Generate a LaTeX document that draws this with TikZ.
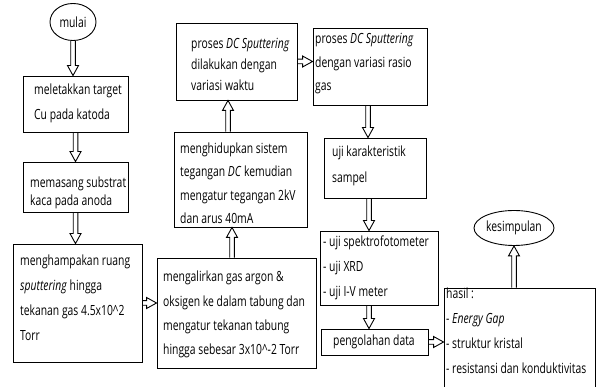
\documentclass[tikz,border=0pt]{standalone}
\usepackage{fontspec}
\setmainfont{Open Sans}[FakeStretch=0.74]
\usetikzlibrary{calc,shapes.geometric}
\newcommand\T{\rule{0pt}{11pt}}
\newcommand\hollowarrow[2]{%
  \path (#1) coordinate (ha) (#2) coordinate (hb);
  \coordinate (hc) at ($(hb)!10pt!(ha)$);
  \draw[harrow] ($(ha)!2.3pt!90:(hb)$) -- ($(hc)!2.3pt!90:(hb)$) -- ($(hc)!5.5pt!90:(hb)$) -- (hb)
    -- ($(hc)!5.5pt!-90:(hb)$) -- ($(hc)!2.3pt!-90:(hb)$) -- ($(ha)!2.3pt!-90:(hb)$);
}
\tikzset{
  box/.style={draw=black, line width=0.9pt, rectangle, inner sep=0pt},
  oval/.style={draw=black, line width=0.9pt, ellipse, inner sep=0pt, font=\fontsize{14}{17}\selectfont, text=black},
  tx/.style={anchor=north west, inner sep=0pt, align=left, font=\fontsize{14}{#1}\selectfont, text=black},
  tx/.default=25,
  harrow/.style={draw=black, line width=0.9pt, line join=miter},
}
\begin{document}
\begin{tikzpicture}[x=1pt,y=-1pt]
\useasboundingbox (0,0) rectangle (598,387);
% boxes
\node[box, minimum width=105pt, minimum height=56pt] (b1) at (75.5,104) {};
\node[box, minimum width=105pt, minimum height=50pt] (b2) at (75.5,187) {};
\node[box, minimum width=129pt, minimum height=118pt] (b3) at (77.5,303) {};
\node[box, minimum width=159pt, minimum height=110pt] (b4) at (236.5,313) {};
\node[box, minimum width=133pt, minimum height=95pt] (b5) at (240.5,179.5) {};
\node[box, minimum width=121pt, minimum height=77pt] (b6) at (236.5,61.5) {};
\node[box, minimum width=114pt, minimum height=77pt] (b7) at (370,66.5) {};
\node[box, minimum width=102pt, minimum height=60pt] (b8) at (375,168) {};
\node[box, minimum width=118pt, minimum height=74pt] (b9) at (379,268) {};
\node[box, minimum width=107pt, minimum height=26pt] (b10) at (374.5,342) {};
\node[box, minimum width=151pt, minimum height=104pt] (b11) at (519.5,340) {};
\node[oval, minimum width=46pt, minimum height=37pt] (m) at (73,22) {mulai};
\node[oval, minimum width=80pt, minimum height=35pt] (k) at (514,228) {kesimpulan};
% texts
\node[tx] (t1) at (34,83) {\T meletakkan target\\Cu pada katoda};
\node[tx=18] (t2) at (30,176) {\T memasang substrat\\kaca pada anoda};
\node[tx] (t3) at (20,254.7) {\T menghampakan ruang\\\textit{sputtering} hingga\\tekanan gas 4.5x10\textasciicircum2\\Torr};
\node[tx=24.2] (t4) at (163,270.7) {\T mengalirkan gas argon \&\\oksigen ke dalam tabung dan\\mengatur tekanan tabung\\hingga sebesar 3x10\textasciicircum-2 Torr};
\node[tx=23.3] (t5) at (180,142.3) {\T menghidupkan sistem\\tegangan \textit{DC} kemudian\\mengatur tegangan 2kV\\dan arus 40mA};
\node[tx=21] (t6) at (191,37.5) {\T proses \textit{DC Sputtering}\\dilakukan dengan\\variasi waktu};
\node[tx=23.7] (t7) at (315,32.3) {\T proses \textit{DC Sputtering}\\dengan variasi rasio\\gas};
\node[tx=26.5] (t8) at (332,145) {\T uji karakteristik\\sampel};
\node[tx=24.7] (t9) at (323,235.7) {\T - uji spektrofotometer\\- uji XRD\\- uji I-V meter};
\node[tx] (t10) at (333,334) {\T pengolahan data};
\node[tx] (t11) at (446,287.3) {\T hasil :\\- \textit{Energy Gap}\\- struktur kristal\\- resistansi dan konduktivitas};
% arrows
\hollowarrow{m.south}{m.south |- b1.north}
\hollowarrow{b1.south}{b1.south |- b2.north}
\hollowarrow{b2.south}{b2.south |- b3.north}
\hollowarrow{b3.east}{b3.east -| b4.west}
\path (b4.north) ++(-4.5,0) coordinate (a45);
\hollowarrow{a45}{a45 |- b5.south}
\path (b5.north) ++(-12.5,0) coordinate (a56);
\hollowarrow{a56}{a56 |- b6.south}
\hollowarrow{b6.east}{b6.east -| b7.west}
\path (b7.south) ++(-2,0) coordinate (a78);
\hollowarrow{a78}{a78 |- b8.north}
\path (b8.south) ++(-6,0) coordinate (a89);
\hollowarrow{a89}{a89 |- b9.north}
\path (b9.south) ++(-10,0) coordinate (a910);
\hollowarrow{a910}{a910 |- b10.north}
\hollowarrow{b10.east}{b10.east -| b11.west}
\path (b11.north) ++(-5.5,0) coordinate (a11);
\hollowarrow{a11}{a11 |- k.south}
\end{tikzpicture}
\end{document}
